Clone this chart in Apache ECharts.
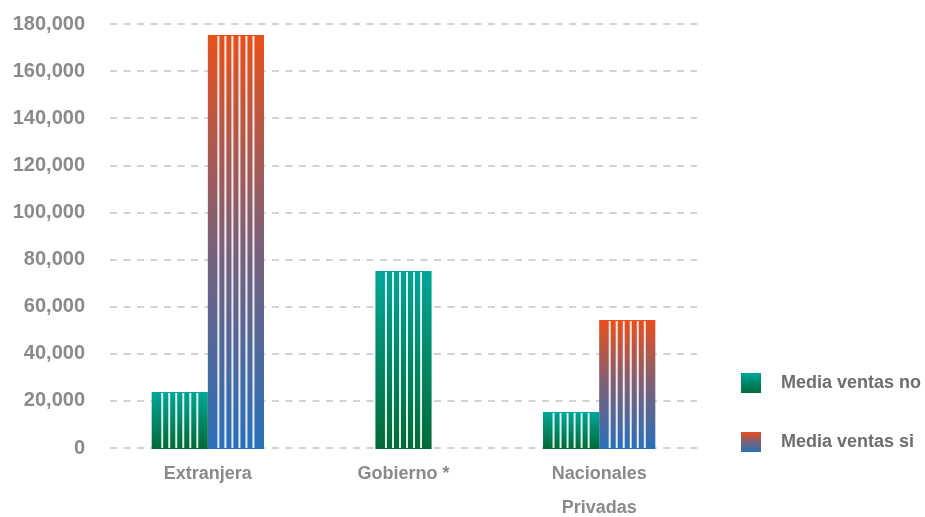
<!DOCTYPE html>
<html>
<head>
<meta charset="utf-8">
<title>Media ventas</title>
<script src="https://cdn.jsdelivr.net/npm/echarts@6/dist/echarts.min.js"></script>
<style>
  html, body { margin: 0; padding: 0; background: #ffffff; }
  #chart { width: 925px; height: 517px; }
</style>
</head>
<body>
<div id="chart"></div>
<script>
// Sector categories and average sales per group
const categories = ['Extranjera', 'Gobierno *', 'Nacionales\nPrivadas'];
const seriesNames = ['Media ventas no', 'Media ventas si'];
const salesNo = [23800, 75100, 15300];
const salesYes = [175300, null, 54300];
const yTicks = [0, 20000, 40000, 60000, 80000, 100000, 120000, 140000, 160000, 180000];

const chart = echarts.init(document.getElementById('chart'));

const fills = [
  new echarts.graphic.LinearGradient(0, 0, 0, 1, [
    { offset: 0, color: '#00a698' },
    { offset: 1, color: '#006a36' }
  ]),
  new echarts.graphic.LinearGradient(0, 0, 0, 1, [
    { offset: 0, color: '#e8501c' },
    { offset: 0.5, color: '#7c6078' },
    { offset: 1, color: '#2870ba' }
  ])
];

function toPoints(values) {
  const out = [];
  values.forEach((v, i) => { if (v != null) out.push([i, v]); });
  return out;
}

// Striped bar: gradient body with six thin white vertical stripes
function renderStripedBar(params, api) {
  const s = params.seriesIndex;
  const cat = api.value(0);
  const val = api.value(1);
  const base = api.coord([cat, 0]);
  const top = api.coord([cat, val]);
  const band = api.size([1, 0])[0];
  const w = band * 0.287;
  const paired = salesNo[cat] != null && salesYes[cat] != null;
  const x0 = paired ? (s === 0 ? base[0] - w : base[0]) : base[0] - w / 2;
  const h = base[1] - top[1] + 1;
  const children = [{
    type: 'rect',
    shape: { x: x0, y: top[1], width: w, height: h },
    style: { fill: fills[s] }
  }];
  const step = w / 8;
  for (let k = 0; k < 6; k++) {
    const cx = x0 + w / 2 + (k - 2.5) * step;
    children.push({
      type: 'rect',
      shape: { x: cx - 1, y: top[1] + 1, width: 2, height: h - 2 },
      style: { fill: 'rgba(255,255,255,0.88)' }
    });
  }
  return { type: 'group', children };
}

const labelFont = 'Liberation Sans, Arial, Helvetica, sans-serif';

chart.setOption({
  animation: false,
  backgroundColor: '#ffffff',
  grid: { left: 110, right: 228, top: 24, bottom: 69, containLabel: false, outerBoundsMode: 'none' },
  legend: {
    orient: 'vertical',
    left: 736,
    top: 368,
    itemWidth: 20,
    itemHeight: 20,
    itemGap: 39,
    icon: 'rect',
    selectedMode: false,
    textStyle: {
      color: '#6e6e6e',
      fontSize: 18,
      fontWeight: 'bold',
      fontFamily: labelFont,
      padding: [0, 0, 0, 15]
    },
    data: seriesNames.map((n, i) => ({ name: n, itemStyle: { color: fills[i] } }))
  },
  xAxis: {
    type: 'category',
    data: categories,
    axisLine: { show: false },
    axisTick: { show: false },
    axisLabel: {
      interval: 0,
      margin: 9,
      lineHeight: 34,
      color: '#8a8a8a',
      fontSize: 18,
      fontWeight: 'bold',
      fontFamily: labelFont
    }
  },
  yAxis: {
    type: 'value',
    min: yTicks[0],
    max: yTicks[yTicks.length - 1],
    interval: yTicks[1] - yTicks[0],
    axisLine: { show: false },
    axisTick: { show: false },
    axisLabel: {
      margin: 25,
      color: '#8a8a8a',
      fontSize: 20,
      fontWeight: 'bold',
      fontFamily: labelFont,
      formatter: v => v.toLocaleString('en-US')
    },
    splitLine: {
      show: true,
      lineStyle: { color: '#d2d2d2', width: 2, type: [7, 6.5] }
    }
  },
  series: [salesNo, salesYes].map((vals, i) => ({
    name: seriesNames[i],
    type: 'custom',
    renderItem: renderStripedBar,
    encode: { x: 0, y: 1 },
    itemStyle: { color: fills[i] },
    data: toPoints(vals)
  }))
});
</script>
</body>
</html>
